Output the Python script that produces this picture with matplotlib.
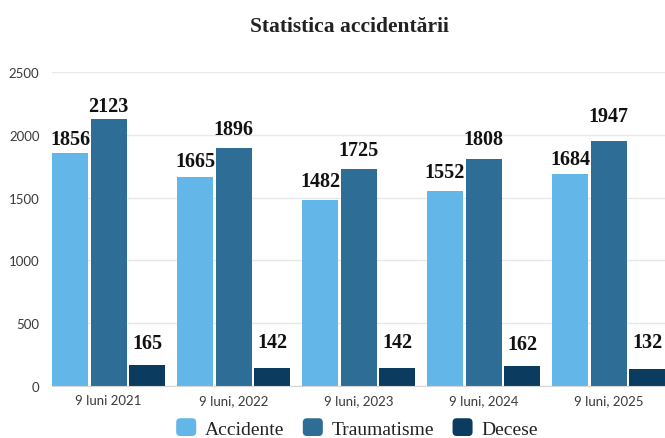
import numpy as np
import matplotlib
matplotlib.use("Agg")
from matplotlib import pyplot as plt
from matplotlib.patches import FancyBboxPatch, Patch
from matplotlib.legend_handler import HandlerPatch


periods = ["9 luni 2021", "9 luni, 2022", "9 luni, 2023", "9 luni, 2024", "9 luni, 2025"]
accidente = [1856, 1665, 1482, 1552, 1684]
traumatisme = [2123, 1896, 1725, 1808, 1947]
decese = [165, 142, 142, 162, 132]
series_names = ["Accidente", "Traumatisme", "Decese"]
yticks = [0, 500, 1000, 1500, 2000, 2500]

colors = ["#63b7e8", "#2e6e96", "#0b3b5f"]
# gap (in pixels) between bar top and its label, as in the picture
label_gaps = [[4, 6, 9, 9, 5],
              [3, 9, 9, 10, 15],
              [12, 16, 16, 12, 17]]


class RoundHandler(HandlerPatch):
    def create_artists(self, legend, orig_handle, xdescent, ydescent,
                       width, height, fontsize, trans):
        p = FancyBboxPatch((-xdescent, -ydescent), width, height,
                           boxstyle="round,pad=0,rounding_size=3",
                           facecolor=orig_handle.get_facecolor(),
                           edgecolor="none", transform=trans)
        return [p]


fig = plt.figure(figsize=(6.65, 4.39), dpi=100)
ax = fig.add_axes([52/665, 1-387/439, 613/665, 314/439])

x = np.arange(len(periods))
step = 0.308
width = 0.288
serif = "Liberation Serif"
sans = "Lato"

for i, vals in enumerate([accidente, traumatisme, decese]):
    pos = x + (i - 1)*step
    ax.bar(pos, vals, width, color=colors[i], zorder=3)
    for j, v in enumerate(vals):
        ax.annotate(str(v), (pos[j], v), xytext=(0, label_gaps[i][j]),
                    textcoords="offset pixels", ha="center", va="bottom",
                    fontsize=14.5, fontweight="bold", family=serif,
                    color="#111111", zorder=4)

ax.set_xlim(-0.452, 4.452)
ax.set_ylim(0, 2500)
ax.set_yticks(yticks)
ax.set_xticks(x)
ax.set_xticklabels(periods)
ax.grid(axis="y", color="#e8e8e8", linewidth=1, zorder=0)
ax.tick_params(length=0, labelsize=9.5, labelcolor="#3a3a3a")
ax.tick_params(axis="y", pad=9)
ax.tick_params(axis="x", pad=6)
for lab in ax.get_xticklabels() + ax.get_yticklabels():
    lab.set_family(sans)
for s in ["top", "right", "left"]:
    ax.spines[s].set_visible(False)
ax.spines["bottom"].set_color("#d5d5d5")
ax.spines["bottom"].set_zorder(5)

fig.text(349/665, 1-27/439, "Statistica accidentării", ha="center", va="center",
         fontsize=15.5, fontweight="bold", family=serif, color="#222222")

handles = [Patch(facecolor=c) for c in colors]
fig.legend(handles, series_names, loc="center", bbox_to_anchor=(357/665, 1-429/439),
           ncol=3, frameon=False, handler_map={Patch: RoundHandler()},
           prop={"family": serif, "size": 14}, handlelength=1.03, handleheight=1.03,
           handletextpad=0.45, columnspacing=0.95, labelcolor="#222222")

plt.savefig("out.png", dpi=100)
